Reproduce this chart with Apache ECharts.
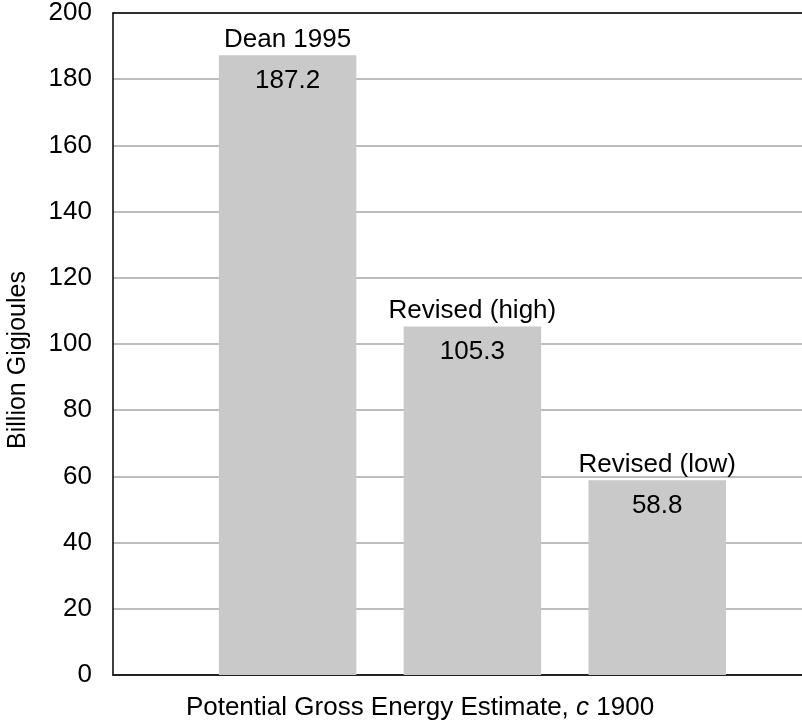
<!DOCTYPE html>
<html>
<head>
<meta charset="utf-8">
<script src="https://cdn.jsdelivr.net/npm/echarts@6/dist/echarts.min.js"></script>
<style>html,body{margin:0;padding:0;background:#fff;}#c{width:802px;height:725px;}</style>
</head>
<body>
<div id="c"></div>
<script>
const categories = ['Dean 1995', 'Revised (high)', 'Revised (low)'];
const positions = [1, 2, 3];
const values = [187.2, 105.3, 58.8];
const yTicks = [0, 20, 40, 60, 80, 100, 120, 140, 160, 180, 200];
const yAxisTitle = 'Billion Gigjoules';
const xAxisTitleParts = ['Potential Gross Energy Estimate, ', 'c', ' 1900'];

const FONT = '"Liberation Sans", Arial, Helvetica, sans-serif';
const barData = positions.map((p, i) => [p, values[i]]);

const chart = echarts.init(document.getElementById('c'), null, {renderer: 'canvas'});
chart.setOption({
  backgroundColor: '#fff',
  animation: false,
  grid: {left: 113, top: 12, right: 0, bottom: 50, containLabel: false},
  xAxis: [
    {type: 'value', min: 0.0552, max: 3.7835, position: 'bottom',
     axisLine: {show: true, onZero: false, lineStyle: {color: '#222', width: 2}},
     axisTick: {show: false}, axisLabel: {show: false}, splitLine: {show: false}},
    {type: 'value', min: 0.0552, max: 3.7835, position: 'top',
     axisLine: {show: true, onZero: false, lineStyle: {color: '#000', width: 1.5}},
     axisTick: {show: false}, axisLabel: {show: false}, splitLine: {show: false}}
  ],
  yAxis: {
    type: 'value', min: yTicks[0], max: yTicks[yTicks.length - 1], interval: yTicks[1] - yTicks[0],
    axisLine: {show: true, lineStyle: {color: '#000', width: 1.5}},
    axisTick: {show: false},
    axisLabel: {fontSize: 26, color: '#000', fontFamily: FONT, margin: 21},
    splitLine: {show: true, lineStyle: {color: '#bdbdbd', width: 2}}
  },
  series: [
    {
      type: 'bar', data: barData, barWidth: 137.5, barGap: '-100%',
      itemStyle: {color: '#c9c9c9'},
      label: {show: true, position: 'insideTop', distance: 12, fontSize: 26, color: '#000', fontFamily: FONT,
              formatter: p => values[p.dataIndex].toFixed(1)},
      z: 3
    },
    {
      type: 'bar', data: barData, barWidth: 137.5, barGap: '-100%',
      itemStyle: {color: 'rgba(0,0,0,0)'},
      label: {show: true, position: 'top', distance: 3, fontSize: 26, color: '#000', fontFamily: FONT,
              formatter: p => categories[p.dataIndex]},
      silent: true, z: 4
    }
  ],
  graphic: [
    {type: 'text', x: 18, y: 360, rotation: Math.PI / 2,
     style: {text: yAxisTitle, fontSize: 25, fontFamily: FONT, fill: '#000', textAlign: 'center', textVerticalAlign: 'middle'}},
    {type: 'text', x: 420, y: 708,
     style: {text: xAxisTitleParts[0] + '{i|' + xAxisTitleParts[1] + '}' + xAxisTitleParts[2],
             rich: {i: {fontStyle: 'italic', fontSize: 26, fontFamily: FONT, fill: '#000'}},
             fontSize: 26, fontFamily: FONT, fill: '#000', textAlign: 'center', textVerticalAlign: 'middle'}}
  ]
});
</script>
</body>
</html>
